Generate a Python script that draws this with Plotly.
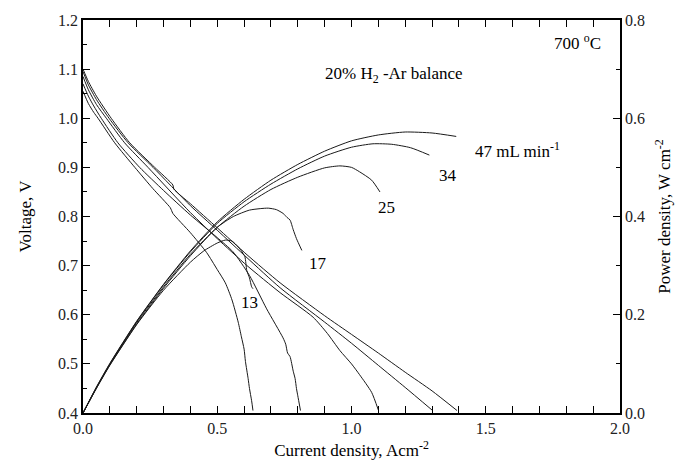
import plotly.graph_objects as go

# Voltage curves (x = current density A/cm2, V = voltage)
x47v = [0, 0.02, 0.05, 0.105, 0.174, 0.267, 0.335, 0.338, 0.4, 0.5, 0.611, 0.734, 0.9, 1.0, 1.1, 1.2, 1.3, 1.393]
v47 = [1.100, 1.075, 1.045, 1.000, 0.950, 0.900, 0.864, 0.856, 0.826, 0.777, 0.722, 0.665, 0.598, 0.560, 0.522, 0.483, 0.445, 0.405]

x34v = [0, 0.02, 0.05, 0.097, 0.168, 0.261, 0.4, 0.5, 0.611, 0.734, 0.9, 1.0, 1.1, 1.2, 1.3]
v34 = [1.095, 1.068, 1.038, 1.000, 0.950, 0.900, 0.822, 0.772, 0.716, 0.655, 0.585, 0.542, 0.497, 0.452, 0.406]

x25v = [0, 0.02, 0.05, 0.087, 0.155, 0.242, 0.4, 0.5, 0.611, 0.734, 0.857, 0.91, 0.957, 1.0, 1.03, 1.075, 1.10]
v25 = [1.085, 1.058, 1.028, 1.000, 0.950, 0.900, 0.808, 0.755, 0.700, 0.645, 0.595, 0.562, 0.527, 0.500, 0.478, 0.442, 0.406]

x17v = [0, 0.02, 0.04, 0.068, 0.13, 0.211, 0.3, 0.4, 0.5, 0.559, 0.62, 0.684, 0.745, 0.755, 0.762, 0.771, 0.783, 0.79, 0.795, 0.80, 0.81]
v17 = [1.070, 1.045, 1.025, 1.000, 0.950, 0.900, 0.853, 0.803, 0.757, 0.728, 0.680, 0.612, 0.553, 0.540, 0.522, 0.515, 0.485, 0.470, 0.450, 0.435, 0.405]

x13v = [0, 0.02, 0.04, 0.056, 0.118, 0.193, 0.26, 0.325, 0.33, 0.335, 0.4, 0.46, 0.5, 0.53, 0.555, 0.578, 0.59, 0.60, 0.605, 0.615, 0.62, 0.628, 0.633]
v13 = [1.055, 1.030, 1.012, 1.000, 0.950, 0.900, 0.857, 0.818, 0.812, 0.806, 0.767, 0.727, 0.692, 0.665, 0.630, 0.585, 0.555, 0.530, 0.505, 0.470, 0.450, 0.425, 0.405]

# Power density curves (W/cm2)
x47p = [0, 0.05, 0.1, 0.2, 0.3, 0.4, 0.5, 0.6, 0.7, 0.8, 0.9, 1.0, 1.1, 1.2, 1.3, 1.39]
p47 = [0, 0.053, 0.101, 0.187, 0.262, 0.330, 0.389, 0.435, 0.474, 0.506, 0.533, 0.554, 0.566, 0.572, 0.570, 0.563]

x34p = [0, 0.05, 0.1, 0.2, 0.3, 0.4, 0.5, 0.6, 0.7, 0.8, 0.9, 1.0, 1.08, 1.15, 1.22, 1.29]
p34 = [0, 0.052, 0.100, 0.186, 0.261, 0.328, 0.386, 0.430, 0.466, 0.497, 0.523, 0.541, 0.548, 0.547, 0.540, 0.525]

x25p = [0, 0.05, 0.1, 0.2, 0.3, 0.4, 0.5, 0.6, 0.7, 0.8, 0.9, 0.957, 1.0, 1.03, 1.075, 1.106]
p25 = [0, 0.051, 0.099, 0.184, 0.257, 0.323, 0.378, 0.421, 0.455, 0.480, 0.499, 0.503, 0.500, 0.491, 0.474, 0.450]

x17p = [0, 0.05, 0.1, 0.2, 0.3, 0.4, 0.5, 0.56, 0.62, 0.66, 0.69, 0.72, 0.746, 0.76, 0.771, 0.783, 0.795, 0.815]
p17 = [0, 0.051, 0.098, 0.181, 0.254, 0.320, 0.378, 0.400, 0.413, 0.416, 0.417, 0.414, 0.406, 0.398, 0.393, 0.373, 0.355, 0.331]

x13p = [0, 0.05, 0.1, 0.2, 0.3, 0.4, 0.45, 0.5, 0.53, 0.555, 0.578, 0.59, 0.603, 0.61, 0.62, 0.628, 0.633]
p13 = [0, 0.050, 0.097, 0.180, 0.250, 0.307, 0.330, 0.346, 0.352, 0.350, 0.338, 0.330, 0.318, 0.290, 0.275, 0.257, 0.253]

labels = ["47 mL min<sup>-1</sup>", "34", "25", "17", "13"]
label_x = [1.62, 1.36, 1.13, 0.875, 0.62]
label_v = [0.935, 0.884, 0.819, 0.705, 0.624]

FONT = "Liberation Serif, Times New Roman, serif"
LC = "#1a1a1a"

fig = go.Figure()
for xs, vs in [(x47v, v47), (x34v, v34), (x25v, v25), (x17v, v17), (x13v, v13)]:
    fig.add_trace(go.Scatter(x=xs, y=vs, mode="lines", line=dict(color=LC, width=1, shape="spline", smoothing=0.6),
                             showlegend=False))
for xs, ps in [(x47p, p47), (x34p, p34), (x25p, p25), (x17p, p17), (x13p, p13)]:
    fig.add_trace(go.Scatter(x=xs, y=ps, mode="lines", line=dict(color=LC, width=1, shape="spline", smoothing=0.6),
                             yaxis="y2", showlegend=False))

for t, lx, lv in zip(labels, label_x, label_v):
    fig.add_annotation(x=lx, y=lv, text=t, showarrow=False, font=dict(family=FONT, size=17, color="black"))

fig.add_annotation(x=1.84, y=1.155, text="700 <sup>o</sup>C", showarrow=False,
                   font=dict(family=FONT, size=17, color="black"))
fig.add_annotation(x=1.16, y=1.088, text="20% H<sub>2</sub> -Ar balance", showarrow=False,
                   font=dict(family=FONT, size=17, color="black"))

axis_common = dict(showline=True, linecolor="black", linewidth=1.6, ticks="inside", ticklen=7,
                   tickcolor="black", tickwidth=1.2, showgrid=False, zeroline=False, automargin=False,
                   tickfont=dict(family=FONT, size=16, color="#222"))

fig.update_layout(
    width=680, height=465,
    margin=dict(l=83, r=60, t=20, b=52),
    paper_bgcolor="white", plot_bgcolor="white",
    xaxis=dict(range=[0, 2], dtick=0.5, tick0=0, tickformat=".1f", mirror="allticks",
               minor=dict(dtick=0.1, ticks="inside", ticklen=4, tickcolor="black"),
               title=dict(text="Current density, Acm<sup>-2</sup>", font=dict(family=FONT, size=17, color="black"), standoff=8),
               **axis_common),
    yaxis=dict(range=[0.4, 1.2], dtick=0.1, tick0=0.4, tickformat=".1f",
               minor=dict(dtick=0.05, ticks="inside", ticklen=4, tickcolor="black"),
               title=dict(text="Voltage, V", font=dict(family=FONT, size=17, color="black"), standoff=22),
               **axis_common),
    yaxis2=dict(range=[0, 0.8], dtick=0.2, tick0=0, tickformat=".1f", overlaying="y", side="right", anchor="x",
                minor=dict(dtick=0.1, ticks="inside", ticklen=4, tickcolor="black"),
                title=dict(text="Power density, W cm<sup>-2</sup>", font=dict(family=FONT, size=17, color="black"), standoff=14),
                **axis_common),
)

fig.write_html("out.html")
